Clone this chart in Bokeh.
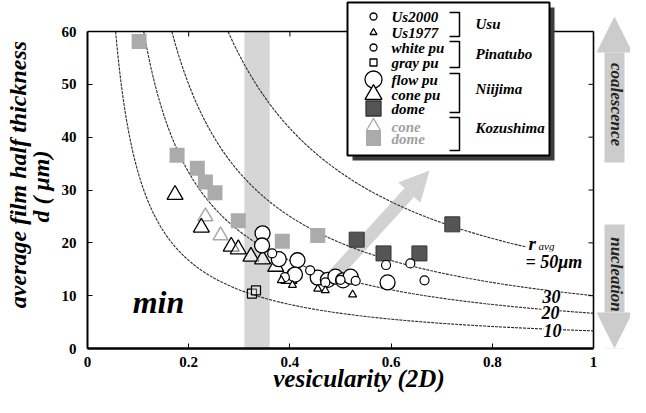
import numpy as np
from bokeh.plotting import figure
from bokeh.models import Range1d, FixedTicker, Label, BoxAnnotation, Arrow, NormalHead
from bokeh.embed import file_html
from bokeh.resources import INLINE

# ---------------- data ----------------
x_ticks = [0, 0.2, 0.4, 0.6, 0.8, 1]
x_tick_labels = ["0", "0.2", "0.4", "0.6", "0.8", "1"]
y_ticks = [0, 10, 20, 30, 40, 50, 60]

# iso-radius curves of the model d = r_avg / (3 * vesicularity)
curve_radii = [10, 20, 30, 50]
curve_label_texts = ["10", "20", "30"]

us2000_x = [0.365, 0.44, 0.47, 0.50, 0.53]
us2000_y = [18.0, 14.8, 12.5, 13.0, 12.8]
us1977_x = [0.383, 0.405, 0.455, 0.47, 0.524]
us1977_y = [12.9, 12.0, 11.3, 11.0, 10.2]
white_pu_x = [0.39, 0.59, 0.638, 0.666]
white_pu_y = [13.5, 15.8, 16.1, 12.9]
gray_pu_x = [0.325, 0.333]
gray_pu_y = [10.4, 11.0]
flow_pu_x = [0.346, 0.345, 0.378, 0.415, 0.41, 0.455, 0.475, 0.49, 0.505, 0.52, 0.593]
flow_pu_y = [21.8, 19.5, 16.9, 16.7, 14.0, 13.4, 13.0, 13.6, 12.9, 13.6, 12.5]
cone_pu_x = [0.173, 0.225, 0.284, 0.298, 0.323, 0.346, 0.372, 0.398]
cone_pu_y = [29.1, 22.9, 19.3, 18.8, 17.4, 16.9, 15.5, 13.2]
nii_dome_x = [0.532, 0.585, 0.656, 0.721]
nii_dome_y = [20.6, 18.0, 18.0, 23.5]
koz_cone_x = [0.233, 0.263, 0.365]
koz_cone_y = [25.0, 21.4, 17.0]
koz_dome_x = [0.102, 0.177, 0.217, 0.233, 0.252, 0.298, 0.385, 0.455]
koz_dome_y = [58.1, 36.6, 34.1, 31.5, 29.5, 24.2, 20.3, 21.4]

band_left, band_right = 0.31, 0.36          # "min" vesicularity band
growth_start = (0.474, 12.5)                # grey growth arrow
growth_end = (0.676, 33.7)

X_MIN, X_MAX, Y_MIN, Y_MAX = 0, 1, 0, 60

# ---------------- layout helpers (page pixel -> data) ----------------
PX_X0, PX_Y0 = 95, 356
PX_PER_X = 506.0
PX_PER_Y = 317.0 / 60.0


def dx(px):
    return (px - PX_X0) / PX_PER_X


def dy(py):
    return (PX_Y0 - py) / PX_PER_Y


SERIF = "Liberation Serif"

p = figure(width=630, height=397,
           x_range=Range1d(0, dx(638)), y_range=Range1d(0, dy(8)),
           min_border_left=87, min_border_right=0, min_border_top=0, min_border_bottom=49,
           output_backend="svg", toolbar_location=None)
p.outline_line_color = None
p.xgrid.visible = False
p.ygrid.visible = False
p.background_fill_color = "white"
p.border_fill_color = "white"

for ax, ticks, bounds in ((p.xaxis[0], x_ticks, (X_MIN, X_MAX)), (p.yaxis[0], y_ticks, (Y_MIN, Y_MAX))):
    ax.ticker = FixedTicker(ticks=ticks)
    ax.bounds = bounds
    ax.minor_tick_line_color = None
    ax.major_tick_in = 5
    ax.major_tick_out = 0
    ax.axis_line_color = "black"
    ax.major_tick_line_color = "black"
    ax.major_label_text_font = SERIF
    ax.major_label_text_font_style = "bold"
    ax.major_label_text_font_size = "15px"
    ax.major_label_text_color = "black"
    ax.axis_label_text_font = SERIF
    ax.axis_label_text_font_style = "bold italic"
    ax.axis_label_text_color = "black"
p.xaxis[0].axis_line_width = 2.5
p.yaxis[0].axis_line_width = 2
p.xaxis[0].major_label_overrides = dict(zip(x_ticks, x_tick_labels))
p.xaxis[0].major_label_standoff = 8
p.yaxis[0].major_label_standoff = 11

p.xaxis[0].axis_label = "vesicularity (2D)"
p.xaxis[0].axis_label_text_font_size = "25px"
p.xaxis[0].axis_label_text_line_height = 1.0
p.xaxis[0].axis_label_standoff = -5
p.yaxis[0].axis_label = "average film half thickness\nd ( μm)\u00a0\u00a0\u00a0\u00a0"
p.yaxis[0].axis_label_text_font_size = "24px"
p.yaxis[0].axis_label_text_line_height = 0.85
p.yaxis[0].axis_label_standoff = 5

# band and growth arrow
p.add_layout(BoxAnnotation(left=band_left, right=band_right, bottom=Y_MIN, top=Y_MAX,
                           fill_color="#d6d6d6", fill_alpha=1, line_color=None, level="underlay"))
p.add_layout(Arrow(x_start=growth_start[0], y_start=growth_start[1],
                   x_end=growth_end[0], y_end=growth_end[1],
                   line_width=13, line_color="#d2d2d2", level="underlay",
                   end=NormalHead(size=30, fill_color="#d2d2d2", line_color=None)))

# iso-radius curves
curve_end = [1, 1, 1, dx(534)]
for r, xe in zip(curve_radii, curve_end):
    phi = np.linspace(r / (3 * Y_MAX), xe, 300)
    p.line(phi, r / (3 * phi), line_color="#2a2a2a", line_width=1.1, line_dash="3 1")

# frame top / right and inner ticks
p.segment(x0=[X_MIN, X_MAX], y0=[Y_MAX, Y_MAX], x1=[X_MAX, X_MAX], y1=[Y_MAX, Y_MIN],
          line_color="black", line_width=1.6)
tick_dx = 5 / PX_PER_X
tick_dy = 5 / PX_PER_Y
p.segment(x0=[X_MAX - tick_dx] * 5, y0=y_ticks[1:-1], x1=[X_MAX] * 5, y1=y_ticks[1:-1],
          line_color="black", line_width=1)
p.segment(x0=x_ticks[1:-1], y0=[Y_MAX] * 4, x1=x_ticks[1:-1], y1=[Y_MAX - tick_dy] * 4,
          line_color="black", line_width=1)

# data
KOZ_LIGHT = "#ababab"
NII_DARK = "#555555"
p.scatter(koz_dome_x, koz_dome_y, marker="square", size=15, fill_color=KOZ_LIGHT, line_color=None)
p.scatter(koz_cone_x, koz_cone_y, marker="triangle", size=15, fill_color="white", fill_alpha=0.6,
          line_color="#a8a8a8", line_width=1.5)
p.scatter(nii_dome_x, nii_dome_y, marker="square", size=15, fill_color=NII_DARK, line_color="#333333")
p.scatter(cone_pu_x, cone_pu_y, marker="triangle", size=16, fill_color="white", fill_alpha=0.5,
          line_color="black", line_width=1.3)
p.scatter(flow_pu_x, flow_pu_y, marker="circle", size=15, fill_color="white", line_color="black", line_width=1.3)
p.scatter(us2000_x, us2000_y, marker="circle", size=9, fill_color="white", line_color="black", line_width=1.2)
p.scatter(white_pu_x, white_pu_y, marker="circle", size=9, fill_color="white", line_color="black", line_width=1.2)
p.scatter(us1977_x, us1977_y, marker="triangle", size=8, fill_color="white", line_color="black", line_width=1.2)
p.scatter(gray_pu_x, gray_pu_y, marker="square", size=9, fill_color="white", fill_alpha=0.3,
          line_color="black", line_width=1.2)

# ---------------- legend (drawn by hand, it overlaps the frame top) ----------------
lx0, lx1, ly0, ly1 = dx(355), dx(557), dy(10), dy(163)
sh_x, sh_y = 5 / PX_PER_X, 5 / PX_PER_Y
p.quad(left=[lx0 + sh_x], right=[lx1 + sh_x], top=[ly0 - sh_y], bottom=[ly1 - sh_y],
       fill_color="#3c3c3c", line_color=None)
p.quad(left=[lx0], right=[lx1], top=[ly0], bottom=[ly1], fill_color="white",
       line_color="black", line_width=2)

leg_names = ["Us2000", "Us1977", "white pu", "gray pu", "flow pu", "cone pu", "dome", "cone", "dome"]
leg_rows = [24, 40, 55, 70, 87, 102, 116, 134, 146]
leg_marker = ["circle", "triangle", "circle", "square", "circle", "triangle", "square", "triangle", "square"]
leg_size = [7, 7, 7, 7, 17, 17, 15, 14, 15]
leg_fill = ["white", "white", "white", "white", "white", "white", NII_DARK, "white", KOZ_LIGHT]
leg_line = ["black"] * 6 + ["#333333", "#a8a8a8", None]
leg_text_col = ["black"] * 7 + ["#a0a0a0", "#a0a0a0"]
mx = dx(381)
for name, row, mk, sz, fc, lc, tc in zip(leg_names, leg_rows, leg_marker, leg_size, leg_fill, leg_line, leg_text_col):
    p.scatter([mx], [dy(row)], marker=mk, size=sz, fill_color=fc, line_color=lc, line_width=1.3)
    p.add_layout(Label(x=dx(399), y=dy(row), text=name, text_font=SERIF, text_font_style="bold italic",
                       text_font_size="15px", text_color=tc, text_baseline="middle", text_align="left"))

groups = ["Usu", "Pinatubo", "Niijima", "Kozushima"]
group_span = [(20, 44), (49, 75), (81, 120), (125, 158)]
group_text_y = [31, 61, 96, 135]
bx0, bx1 = dx(457), dx(467)
for g, (t, b), ty in zip(groups, group_span, group_text_y):
    p.line([bx0, bx1, bx1, bx0], [dy(t), dy(t), dy(b), dy(b)], line_color="black", line_width=1.5)
    p.add_layout(Label(x=dx(483), y=dy(ty), text=g, text_font=SERIF, text_font_style="bold italic",
                       text_font_size="15px", text_color="black", text_baseline="middle", text_align="left"))

# ---------------- curve labels ----------------
for txt, (cx, cy) in zip(curve_label_texts, [(560, 338), (558, 320), (559, 304)]):
    p.add_layout(Label(x=dx(cx), y=dy(cy), text=txt, text_font=SERIF, text_font_style="bold italic",
                       text_font_size="18px", text_align="center", text_baseline="middle",
                       text_color="black", background_fill_color="white"))
p.add_layout(Label(x=dx(536), y=dy(251), text="r", text_font=SERIF, text_font_style="bold italic",
                   text_font_size="19px", text_align="left", text_baseline="middle", text_color="black"))
p.add_layout(Label(x=dx(546), y=dy(253), text="avg", text_font=SERIF, text_font_style="italic",
                   text_font_size="11px", text_align="left", text_baseline="middle", text_color="black"))
p.add_layout(Label(x=dx(533), y=dy(269), text="= 50μm", text_font=SERIF, text_font_style="bold italic",
                   text_font_size="18px", text_align="left", text_baseline="middle",
                   text_color="black", background_fill_color="white"))
p.add_layout(Label(x=dx(166), y=dy(309), text="min", text_font=SERIF, text_font_style="bold italic",
                   text_font_size="32px", text_align="center", text_baseline="middle", text_color="black"))

# ---------------- right side process arrows ----------------
ARROW_GREY = "#cccccc"
for (tail, tip), txt, ty in (((170, 24), "coalescence", 112), ((232, 356), "nucleation", 282)):
    p.add_layout(Arrow(x_start=dx(622), y_start=dy(tail), x_end=dx(622), y_end=dy(tip),
                       line_width=20, line_color=ARROW_GREY,
                       end=NormalHead(size=36, fill_color=ARROW_GREY, line_color=None)))
    p.add_layout(Label(x=dx(624), y=dy(ty), text=txt, angle=-np.pi / 2, text_font=SERIF,
                       text_font_style="bold italic", text_font_size="17px", text_color="#222222",
                       text_align="center", text_baseline="middle"))

open("out.html", "w").write(file_html(p, INLINE))
